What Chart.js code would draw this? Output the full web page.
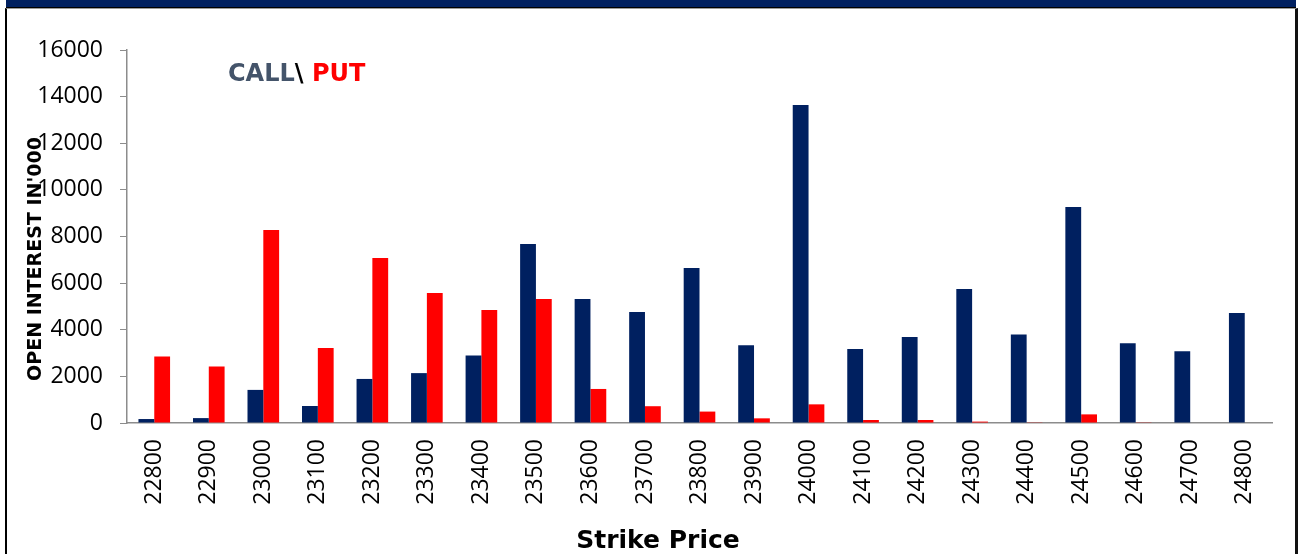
<!DOCTYPE html>
<html>
<head>
<meta charset="utf-8">
<script src="https://cdn.jsdelivr.net/npm/chart.js@4.4.1/dist/chart.umd.min.js"></script>
<style>
  html, body { margin: 0; padding: 0; background: #fff; }
  #wrap { position: relative; width: 1299px; height: 554px; overflow: hidden; background: #fff; }
  #hdr { position: absolute; left: 6px; top: 0; width: 1290px; height: 7px; background: #002060; border-bottom: 1px solid #000; }
  #frame { position: absolute; left: 5px; top: 8px; width: 1288px; height: 560px; border-left: 2px solid #000; border-right: 3px solid #111; border-top: 1px solid #9a9a9a; }
  canvas { position: absolute; left: 0; top: 0; }
</style>
</head>
<body>
<div id="wrap">
  <div id="hdr"></div>
  <div id="frame"></div>
  <canvas id="c" width="1299" height="554"></canvas>
</div>
<script>
const strikes = ['22800','22900','23000','23100','23200','23300','23400','23500','23600','23700','23800','23900','24000','24100','24200','24300','24400','24500','24600','24700','24800'];
const callOI = [170, 210, 1420, 730, 1890, 2140, 2900, 7680, 5320, 4760, 6650, 3330, 13640, 3170, 3690, 5750, 3800, 9270, 3420, 3080, 4720];
const putOI  = [2850, 2420, 8280, 3220, 7080, 5580, 4850, 5320, 1460, 720, 490, 200, 800, 130, 130, 60, 30, 370, 30, 0, 0];
const yTicks = [0, 2000, 4000, 6000, 8000, 10000, 12000, 14000, 16000];

const titles = {
  id: 'titles',
  afterDraw(chart) {
    const ctx = chart.ctx;
    ctx.save();
    // Y title
    ctx.font = 'bold 19px "DejaVu Sans", Verdana, sans-serif';
    ctx.fillStyle = '#000';
    ctx.textAlign = 'center';
    ctx.textBaseline = 'middle';
    ctx.translate(36, 259);
    ctx.rotate(-Math.PI / 2);
    ctx.fillText("OPEN INTEREST IN'000", 0, 0);
    ctx.restore();
    ctx.save();
    // X title
    ctx.font = 'bold 25px "DejaVu Sans", Verdana, sans-serif';
    ctx.fillStyle = '#000';
    ctx.textAlign = 'center';
    ctx.textBaseline = 'alphabetic';
    ctx.fillText('Strike Price', 658, 548);
    // CALL\ PUT
    ctx.font = 'bold 24px "DejaVu Sans", Verdana, sans-serif';
    ctx.textAlign = 'left';
    ctx.fillStyle = '#44546A';
    ctx.fillText('CALL', 228, 81);
    const w1 = ctx.measureText('CALL').width;
    ctx.fillStyle = '#000';
    ctx.fillText('\\ ', 228 + w1, 81);
    const w2 = ctx.measureText('\\ ').width;
    ctx.fillStyle = '#FF0000';
    ctx.fillText('PUT', 228 + w1 + w2, 81);
    ctx.restore();
  }
};

new Chart(document.getElementById('c'), {
  type: 'bar',
  data: {
    labels: strikes,
    datasets: [
      { label: 'CALL', data: callOI, backgroundColor: '#002060', borderWidth: 0 },
      { label: 'PUT', data: putOI, backgroundColor: '#FF0000', borderWidth: 0 }
    ]
  },
  options: {
    responsive: false,
    animation: false,
    devicePixelRatio: 1,
    layout: { padding: { left: 0, top: 50, right: 27, bottom: 0 } },
    plugins: { legend: { display: false }, tooltip: { enabled: false }, title: { display: false } },
    datasets: { bar: { categoryPercentage: 0.58, barPercentage: 1.0 } },
    scales: {
      x: {
        grid: { display: false, drawTicks: false, drawOnChartArea: false },
        border: { display: true, color: '#8c8c8c', width: 1.5 },
        ticks: {
          minRotation: 90, maxRotation: 90, autoSkip: false, padding: 16,
          color: '#000', font: { family: '"Open Sans", sans-serif', size: 23 }
        },
        afterFit(s) { s.height = 131; }
      },
      y: {
        min: 0, max: 16000,
        afterBuildTicks(s) { s.ticks = yTicks.map(v => ({ value: v })); },
        grid: { display: true, drawOnChartArea: false, drawTicks: true, tickLength: 7, color: '#8c8c8c' },
        border: { display: true, color: '#8c8c8c', width: 1.5 },
        ticks: {
          padding: 17, color: '#000', font: { family: '"Open Sans", sans-serif', size: 23 },
          callback: v => String(v)
        },
        afterFit(s) { s.width = 127; }
      }
    }
  },
  plugins: [titles]
});
</script>
</body>
</html>
